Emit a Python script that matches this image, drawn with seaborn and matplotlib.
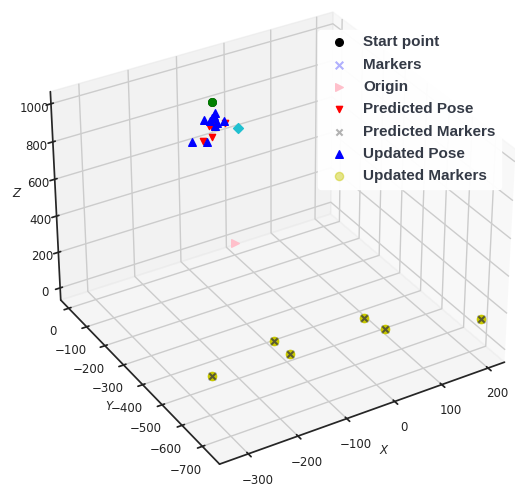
import numpy as np
import matplotlib
matplotlib.use("Agg")
import matplotlib.pyplot as plt
import seaborn as sns

# landmark positions (true / predicted / updated all coincide on the floor)
marker_x = [-256, -106, -102, 74, 88, 255]
marker_y = [-502, -452, -520, -478, -548, -636]
marker_z = [0, 0, 0, 0, 0, 0]

# start point and origin
start_x, start_y, start_z = [-102], [-140], [986]
origin_x, origin_y, origin_z = [0], [0], [0]

# predicted poses
pred_x = [-108, -102, -96, -75, -102, -121]
pred_y = [-140, -140, -140, -140, -140, -140]
pred_z = [860, 855, 859, 852, 802, 792]

# updated poses
upd_x = [-96, -98, -102, -119, -106, -78, -96, -144, -113, -92]
upd_y = [-140, -140, -140, -140, -140, -140, -140, -140, -140, -140]
upd_z = [923, 909, 902, 901, 889, 864, 854, 807, 779, 866]

# extra unlabelled points
cur_x, cur_y, cur_z = [-102], [-140], [986]
goal_x, goal_y, goal_z = [-49], [-140], [807]

sns.set_theme(style="white")
plt.rcParams['font.family'] = ['DejaVu Sans']

fig = plt.figure(figsize=(5.15, 4.87), dpi=100)
ax = fig.add_axes([-0.0, -0.01, 1.056, 1.056], projection='3d')

kw = dict(depthshade=False)
ax.scatter(start_x, start_y, start_z, c='black', marker='o', s=30, label='Start point', **kw)
ax.scatter(marker_x, marker_y, marker_z, c='blue', marker='x', s=30, alpha=0.3, label='Markers', **kw)
ax.scatter(origin_x, origin_y, origin_z, c='pink', marker='>', s=30, label='Origin', **kw)
ax.scatter(pred_x, pred_y, pred_z, c='red', marker='v', s=20, label='Predicted Pose', **kw)
ax.scatter(marker_x, marker_y, marker_z, c='#7a7a40', marker='x', s=20, label='Predicted Markers', **kw)
ax.scatter(upd_x, upd_y, upd_z, c='blue', marker='^', s=30, label='Updated Pose', **kw)
ax.scatter(marker_x, marker_y, marker_z, c='#c8c800', marker='o', s=35, label='Updated Markers', **kw)
ax.scatter(marker_x, marker_y, marker_z, c='#5a5a30', marker='x', s=20, **kw)
ax.scatter(cur_x, cur_y, cur_z, c='green', marker='o', s=30, **kw)
ax.scatter(goal_x, goal_y, goal_z, c='#20c0d0', marker='D', s=25, **kw)

ax.set_xlim(-357, 236)
ax.set_ylim(-783, 45)
ax.set_zlim(-69, 1063)
ax.set_xticks([-300, -200, -100, 0, 100, 200])
ax.set_yticks([0, -100, -200, -300, -400, -500, -600, -700])
ax.set_zticks([0, 200, 400, 600, 800, 1000])
ax.tick_params(labelsize=8.5, colors='#222222')
ax.xaxis.set_tick_params(pad=2)
ax.yaxis.set_tick_params(pad=3)
ax.zaxis.set_tick_params(pad=-1)
ax.set_xlabel('$X$', fontsize=8.5, labelpad=-1)
ax.set_ylabel('$Y$', fontsize=8.5, labelpad=-3)
ax.set_zlabel('$Z$', fontsize=8.5, labelpad=-4)
ax.view_init(elev=32, azim=-121)

leg = fig.legend(loc='upper left', bbox_to_anchor=(318 / 515, 1 - 30 / 487),
                 prop={'family': 'Liberation Sans', 'weight': 'bold', 'size': 11},
                 labelcolor='#343a46', frameon=True, facecolor='white',
                 edgecolor='white', framealpha=0.95, handletextpad=0.6,
                 labelspacing=0.545, borderaxespad=0, borderpad=0.35)
pale = {'Start point': ('black', 1), 'Markers': ('blue', 0.3), 'Origin': ('pink', 1),
        'Predicted Pose': ('red', 1), 'Predicted Markers': ('gray', 0.6),
        'Updated Pose': ('blue', 1), 'Updated Markers': ('#c8c800', 0.45)}
for h, t in zip(leg.legend_handles, leg.get_texts()):
    col, a = pale[t.get_text()]
    h.set_color(col)
    h.set_alpha(a)

fig.savefig('out.png', dpi=100)
